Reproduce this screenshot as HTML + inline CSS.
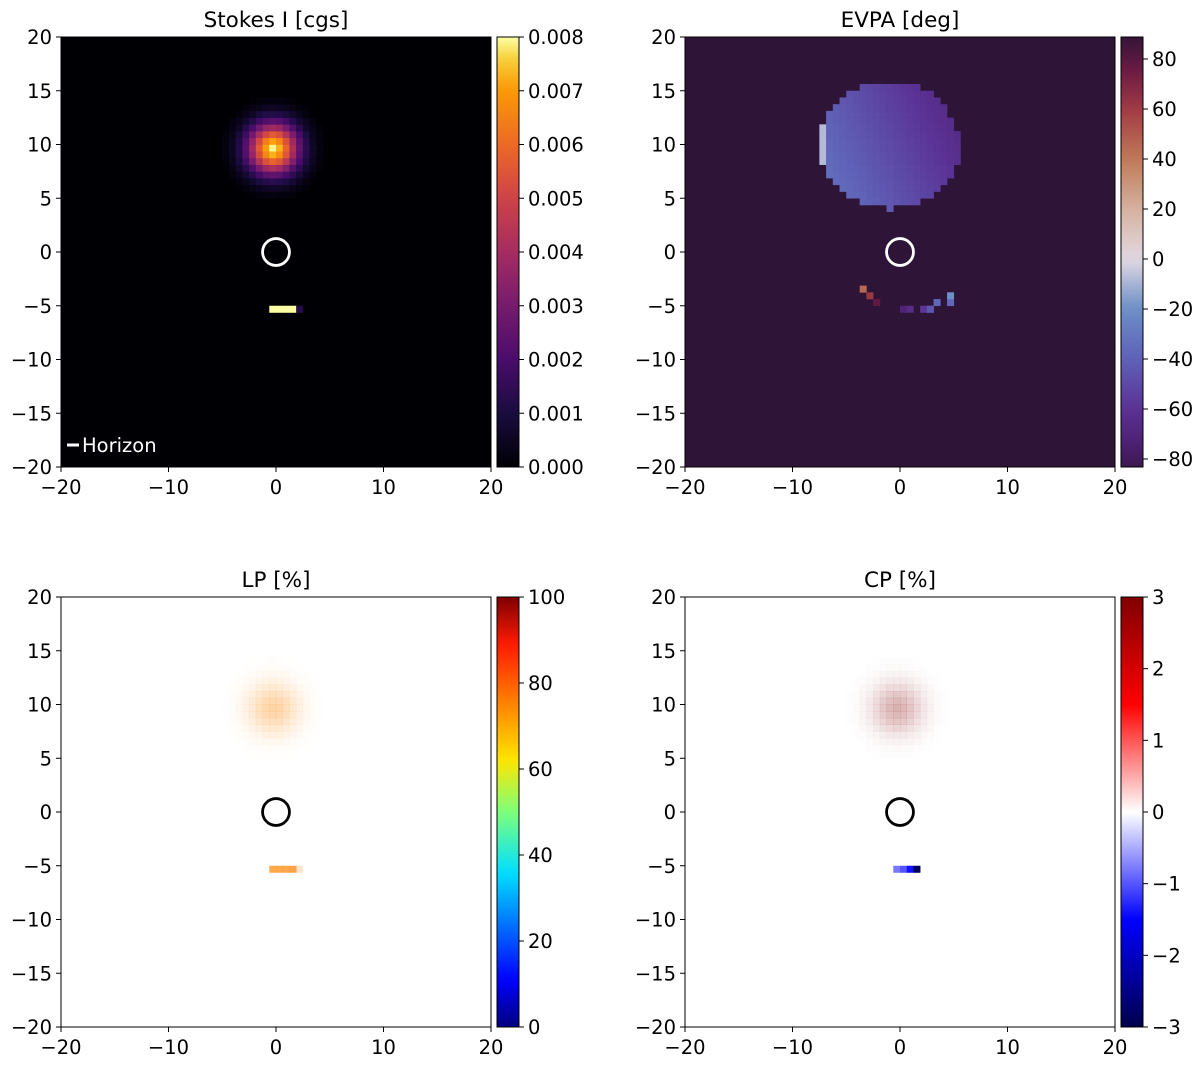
<!DOCTYPE html>
<html><head><meta charset="utf-8"><style>
body{margin:0;background:#fff;}
svg text{font-family:"DejaVu Sans","Liberation Sans",sans-serif;fill:#000;}
</style></head><body>
<svg id="fig" width="1200" height="1062" xmlns="http://www.w3.org/2000/svg"></svg>
<script>
// ---- data ----
const xTicks=[-20,-10,0,10,20];
const yTicks=[-20,-15,-10,-5,0,5,10,15,20];
const titles=["Stokes I [cgs]","EVPA [deg]","LP [%]","CP [%]"];
const cbTicksI=[0,0.001,0.002,0.003,0.004,0.005,0.006,0.007,0.008];
const cbTicksE=[-80,-60,-40,-20,0,20,40,60,80];
const cbTicksL=[0,20,40,60,80,100];
const cbTicksC=[-3,-2,-1,0,1,2,3];
const evpaRange=[-83.2,88.8];
// blob radial profile (fraction of peak) by distance in cells
const blobProfile=[1.0,0.9,0.72,0.5,0.3,0.16,0.07,0.025,0.0];
const blobCenter=[-0.31,9.69];
const peakI=0.008;
// band cells (x, y) and values
const bandX=[-0.3,0.3,0.9,1.5,2.1];
const bandY=-5.3;
const bandI=[0.008,0.008,0.008,0.008,0.0012];
const bandLP=[75,75,75,76,78];
const bandCP=[-0.6,-0.8,-1.0,-1.4,-2.9];
// EVPA disc
const evpaDisc={cx:-1.0,cy:9.2,r:6.7};
const evpaArcX=[-3.6,-3.0,-2.4,0.0,0.6,1.2,1.9,2.5,3.1,3.7,4.4,4.9];
const evpaArcY=[-3.4,-4.0,-4.6,-5.3,-5.3,-5.3,-5.3,-5.3,-5.3,-4.7,-4.7,-4.0];
const evpaArcV=[45,62,78,-82,-72,-65,-58,-52,-45,-38,-38,-20];
const circleR=1.25;

// ---- colormaps ----
const infernoStops=[[0,"#000004"],[0.13,"#1b0c41"],[0.25,"#4a0c6b"],[0.38,"#781c6d"],[0.5,"#a52c60"],[0.63,"#cf4446"],[0.75,"#ed6925"],[0.88,"#fb9b06"],[0.95,"#f7d13d"],[1,"#fcffa4"]];
const twilightStops=[[0,"#2f1436"],[0.08,"#4a1e6e"],[0.17,"#5b3396"],[0.28,"#5f62b8"],[0.39,"#6d8fc6"],[0.5,"#e2d9e2"],[0.61,"#d6b2a0"],[0.72,"#c07a58"],[0.83,"#a33c45"],[0.92,"#6a1a44"],[1,"#2f1436"]];
const jetStops=[[0,"#00007f"],[0.11,"#0000ff"],[0.36,"#00e0ff"],[0.5,"#7dff7a"],[0.62,"#ffe600"],[0.89,"#ff1a00"],[1,"#7f0000"]];
const seismicStops=[[0,"#00004c"],[0.25,"#0000ff"],[0.5,"#ffffff"],[0.75,"#ff0000"],[1,"#7f0000"]];
function hex(h){return [1,3,5].map(i=>parseInt(h.substr(i,2),16));}
function cmap(st,t){t=Math.max(0,Math.min(1,t));for(let i=1;i<st.length;i++){if(t<=st[i][0]){const a=st[i-1],b=st[i];const f=(t-a[0])/(b[0]-a[0]);const ca=hex(a[1]),cb=hex(b[1]);return "rgb("+ca.map((v,k)=>Math.round(v+(cb[k]-v)*f)).join(",")+")";}}return st[st.length-1][1];}
function evpaT(v){return (v+90)/180;}

const NS="http://www.w3.org/2000/svg";
const svg=document.getElementById("fig");
function el(tag,attrs,parent){const e=document.createElementNS(NS,tag);for(const k in attrs)e.setAttribute(k,attrs[k]);(parent||svg).appendChild(e);return e;}
const W=430,H=430,CELL=0.625;
const panels=[{x:61,y:37},{x:685,y:37},{x:61,y:597},{x:685,y:597}];
function sx(p,v){return p.x+(v+20)/40*W;}
function sy(p,v){return p.y+(20-v)/40*H;}
function snap(v){return Math.floor((v+20)/CELL)*CELL-20;}
function cell(g,p,x,y,fill,op,name){const x0=snap(x),y0=snap(y);const r=el("rect",{x:sx(p,x0),y:sy(p,y0+CELL),width:W/40*CELL+0.3,height:H/40*CELL+0.3,fill:fill,"fill-opacity":op==null?1:op},g);

}
function prof(r){const i=Math.floor(r);if(i>=blobProfile.length-1)return 0;const f=r-i;return blobProfile[i]*(1-f)+blobProfile[i+1]*f;}
function blobCells(cb){const c0=snap(blobCenter[0])+CELL/2,c1=snap(blobCenter[1])+CELL/2;for(let i=-8;i<=8;i++)for(let j=-8;j<=8;j++){const x=c0+i*CELL,y=c1+j*CELL;const r=Math.hypot(x-blobCenter[0]-0.05,y-blobCenter[1]+0.05)/CELL;const v=prof(r);if(v>0.004)cb(x,y,v);}}

function panel(k,bg){const p=panels[k];const g=el("g",{});


const b=el("rect",{x:p.x,y:p.y,width:W,height:H,fill:bg},g);


return [p,g];}
function decorate(p,g,k,circColor){
 const c=el("circle",{cx:sx(p,0),cy:sy(p,0),r:circleR/40*W,fill:"none",stroke:circColor,"stroke-width":2.8},g);
 
 
 const f=el("rect",{x:p.x,y:p.y,width:W,height:H,fill:"none",stroke:"#000","stroke-width":1},g);
 
 
 xTicks.forEach(v=>{el("line",{x1:sx(p,v),x2:sx(p,v),y1:p.y+H,y2:p.y+H+5,stroke:"#000"},g);
  const t=el("text",{x:sx(p,v),y:p.y+H+27,"font-size":19.5,"text-anchor":"middle"},g);t.textContent=v<0?"\u2212"+(-v):v;
  
  });
 yTicks.forEach(v=>{el("line",{x1:p.x-5,x2:p.x,y1:sy(p,v),y2:sy(p,v),stroke:"#000"},g);
  const t=el("text",{x:p.x-9,y:sy(p,v)+7,"font-size":19.5,"text-anchor":"end"},g);t.textContent=v<0?"\u2212"+(-v):v;
  
  });
 const tt=el("text",{x:p.x+W/2,y:p.y-10,"font-size":21.5,"text-anchor":"middle"},g);tt.textContent=titles[k];
 
 
}
function colorbar(k,stops,ticks,lo,hi,fmt,tf){const p=panels[k];const x=p.x+W+6,w=22;const id="g"+k;
 const lg=el("linearGradient",{id:id,x1:0,y1:1,x2:0,y2:0});
 for(let i=0;i<=40;i++){const v=lo+(hi-lo)*i/40;el("stop",{offset:i/40,"stop-color":cmap(stops,tf?tf(v):(v-lo)/(hi-lo))},lg);}
 const cb=el("rect",{x:x,y:p.y,width:w,height:H,fill:"url(#"+id+")",stroke:"#000","stroke-width":1});
 
 
 ticks.forEach(v=>{const y=p.y+H-(v-lo)/(hi-lo)*H;el("line",{x1:x+w,x2:x+w+5,y1:y,y2:y,stroke:"#000"});
  const t=el("text",{x:x+w+9,y:y+7,"font-size":19.5},svg);t.textContent=fmt(v);
  
  });}
const neg=v=>v<0?"\u2212"+(-v):""+v;

// Panel 1: Stokes I
{const [p,g]=panel(0,"#000004");
 blobCells((x,y,f)=>cell(g,p,x,y,cmap(infernoStops,f),1,'intensity-cell'));
 bandX.forEach((x,i)=>cell(g,p,x,bandY,cmap(infernoStops,bandI[i]/peakI),1,'band-cell'));
 decorate(p,g,0,"#fff");
 el("line",{x1:p.x+6,x2:p.x+18,y1:p.y+H-22,y2:p.y+H-22,stroke:"#fff","stroke-width":3},g);
 const lt=el("text",{x:p.x+21,y:p.y+H-15,"font-size":19.5},g);lt.textContent="Horizon";lt.style.fill="#fff";
 
 }
// Panel 2: EVPA
{const [p,g]=panel(1,"#2e1538");
 const d=evpaDisc;
 for(let x=-20;x<20;x+=CELL)for(let y=-20;y<20;y+=CELL){const cx=x+CELL/2,cy=y+CELL/2;const dx=cx-d.cx,dy=(cy-d.cy);
  const taper=cy<d.cy?Math.max(0,(d.cy-cy)*0.3):0;
  if(dx*dx+dy*dy<(d.r-taper)*(d.r-taper)){let v=-38-2.2*(cx+5)-1.0*(cy-7);if(cx<-6.9)v=-8;cell(g,p,cx,cy,cmap(twilightStops,evpaT(v)),1,'evpa-cell');}}
 evpaArcX.forEach((x,i)=>cell(g,p,x,evpaArcY[i],cmap(twilightStops,evpaT(evpaArcV[i])),1,'evpa-arc-cell'));
 decorate(p,g,1,"#fff");}
// Panel 3: LP
{const [p,g]=panel(2,"#fff");
 blobCells((x,y,f)=>cell(g,p,x,y,cmap(jetStops,0.75),f*0.35,'lp-cell'));
 bandX.forEach((x,i)=>cell(g,p,x,bandY,cmap(jetStops,bandLP[i]/100),bandI[i]/peakI*0.6+0.1,'lp-band-cell'));
 decorate(p,g,2,"#000");}
// Panel 4: CP
{const [p,g]=panel(3,"#fff");
 blobCells((x,y,f)=>cell(g,p,x,y,"#a03c3c",f*0.4,'cp-cell'));
 bandX.slice(0,4).forEach((x,i)=>cell(g,p,x,bandY,cmap(seismicStops,(bandCP[i+1]+3)/6),1,'cp-band-cell'));
 decorate(p,g,3,"#000");}
colorbar(0,infernoStops,cbTicksI,0,0.008,v=>v.toFixed(3));
colorbar(1,twilightStops,cbTicksE,evpaRange[0],evpaRange[1],neg,evpaT);
colorbar(2,jetStops,cbTicksL,0,100,neg);
colorbar(3,seismicStops,cbTicksC,-3,3,neg);
</script>
</body></html>
